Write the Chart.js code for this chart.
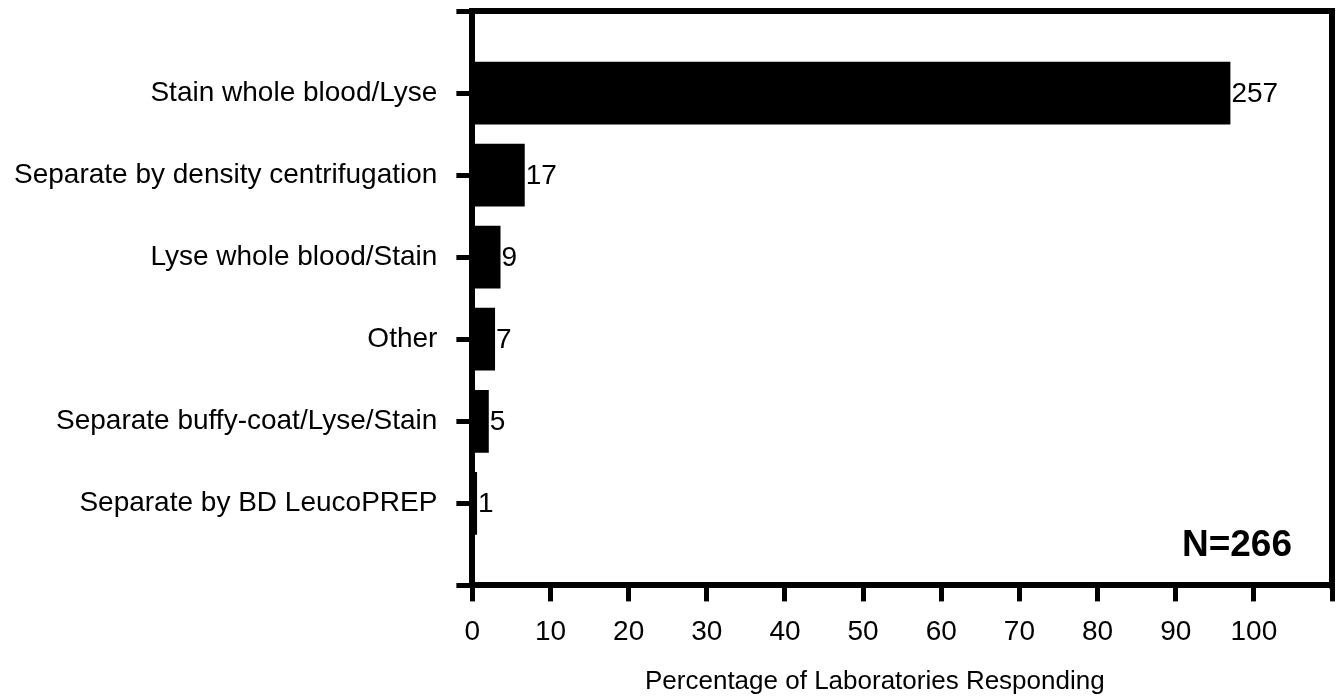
<!DOCTYPE html>
<html>
<head>
<meta charset="utf-8">
<script src="https://cdn.jsdelivr.net/npm/chart.js@4"></script>
<style>
  body { margin: 0; background: #fff; }
  #wrap { width: 1336px; height: 698px; }
</style>
</head>
<body>
<div id="wrap"><canvas id="chart"></canvas></div>
<script>
// blank slots at top and bottom keep the axis ends one step away from the bars
const methods = [
  '',
  'Stain whole blood/Lyse',
  'Separate by density centrifugation',
  'Lyse whole blood/Stain',
  'Other',
  'Separate buffy-coat/Lyse/Stain',
  'Separate by BD LeucoPREP',
  ''
];
const percents = [null, 97.0, 6.7, 3.6, 2.9, 2.1, 0.6, null];
const counts = [null, 257, 17, 9, 7, 5, 1, null];
const xTicks = [0, 10, 20, 30, 40, 50, 60, 70, 80, 90, 100];
const totalLabel = 'N=266';
const axisTitle = 'Percentage of Laboratories Responding';

const FONT = "'Liberation Sans', Arial, sans-serif";

// chart.js reserves tick padding twice and half labels at the axis ends; undo that
function tightFit(axis) {
  const pad = axis.options.ticks.padding;
  if (axis.isHorizontal()) axis.height -= pad;
  else axis.width -= pad;
  axis.paddingTop = 0;
  axis.paddingBottom = 0;
  axis.paddingLeft = 0;
  axis.paddingRight = 0;
}

const extras = {
  id: 'extras',
  afterDraw(chart) {
    const { ctx, chartArea } = chart;
    const xs = chart.scales.x;
    ctx.save();
    // top and right sides of the frame
    ctx.strokeStyle = '#000';
    ctx.lineWidth = 6;
    ctx.beginPath();
    ctx.moveTo(chartArea.left - 3, chartArea.top);
    ctx.lineTo(chartArea.right, chartArea.top);
    ctx.lineTo(chartArea.right, chartArea.bottom + 3);
    ctx.stroke();

    // counts at bar ends
    ctx.fillStyle = '#000';
    ctx.font = '28px ' + FONT;
    ctx.textAlign = 'left';
    ctx.textBaseline = 'middle';
    chart.getDatasetMeta(0).data.forEach((bar, i) => {
      if (counts[i] == null) return;
      ctx.fillText(String(counts[i]), bar.x + 1, bar.y + 1);
    });

    // N label
    ctx.font = 'bold 37px ' + FONT;
    ctx.textAlign = 'right';
    ctx.textBaseline = 'alphabetic';
    ctx.fillText(totalLabel, chartArea.right - 40, chartArea.bottom - 29);

    // axis title
    ctx.font = '26px ' + FONT;
    ctx.textAlign = 'center';
    ctx.fillText(axisTitle, xs.getPixelForValue(51.5), chart.height - 9);
    ctx.restore();
  }
};

new Chart(document.getElementById('chart'), {
  type: 'bar',
  data: {
    labels: methods,
    datasets: [{
      data: percents,
      backgroundColor: '#000',
      borderWidth: 0,
      barPercentage: 0.765,
      categoryPercentage: 1
    }]
  },
  options: {
    indexAxis: 'y',
    responsive: true,
    maintainAspectRatio: false,
    animation: false,
    layout: { padding: { left: 14, right: 4, top: 11, bottom: 49 } },
    plugins: {
      legend: { display: false },
      tooltip: { enabled: false }
    },
    scales: {
      x: {
        min: 0,
        max: 110,
        afterBuildTicks: (axis) => {
          axis.ticks = xTicks.concat([110]).map(v => ({ value: v }));
        },
        afterFit: tightFit,
        ticks: {
          color: '#000',
          font: { family: FONT, size: 28 },
          padding: 14,
          maxRotation: 0,
          autoSkip: false,
          callback: (v) => (xTicks.includes(v) ? String(v) : '')
        },
        grid: {
          drawOnChartArea: false,
          drawTicks: true,
          tickLength: 16,
          lineWidth: 5,
          color: '#000'
        },
        border: { display: true, color: '#000', width: 6 }
      },
      y: {
        offset: false,
        afterFit: tightFit,
        ticks: {
          color: '#000',
          font: { family: FONT, size: 28 },
          padding: 19,
          autoSkip: false
        },
        grid: {
          offset: false,
          drawOnChartArea: false,
          drawTicks: true,
          tickLength: 16,
          lineWidth: 5,
          color: '#000'
        },
        border: { display: true, color: '#000', width: 6 }
      }
    }
  },
  plugins: [extras]
});
</script>
</body>
</html>
